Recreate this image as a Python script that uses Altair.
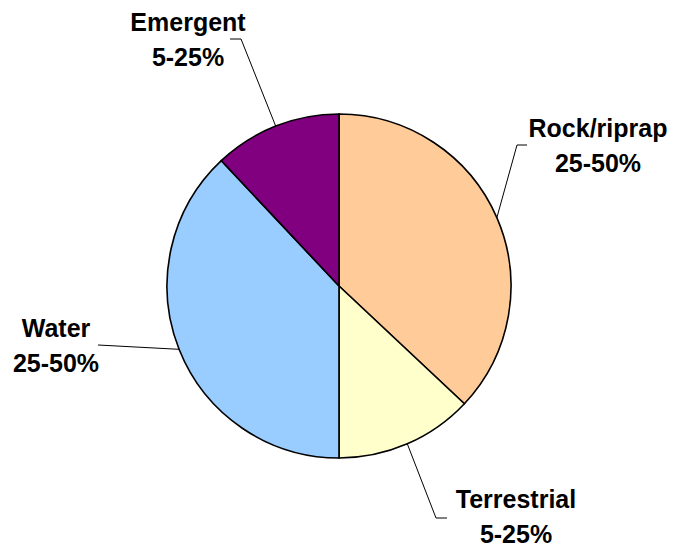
import math
import altair as alt
import pandas as pd

# ---- data ----
categories = ["Rock/riprap", "Terrestrial", "Water", "Emergent"]
shares = [37.0, 13.0, 38.0, 12.0]
ranges = ["25-50%", "5-25%", "25-50%", "5-25%"]
colors = ["#FFCC99", "#FFFFCC", "#99CCFF", "#800080"]

# ---- layout (pixels inside the chart) ----
W, H = 664, 539
CX, CY, R = 331, 278, 172
FONT = "Liberation Sans, Arial, sans-serif"
FONT_SIZE = 25
LINE_GAP = 35
# label centre x, first-line baseline y
label_layout = {
    "Rock/riprap": (590, 129),
    "Terrestrial": (508, 500),
    "Water": (48, 329),
    "Emergent": (180, 23),
}
# leader bend point and end point
leader_layout = {
    "Rock/riprap": [(509, 137), (519, 137)],
    "Terrestrial": [(428, 510), (439, 510)],
    "Water": [(90, 337)],
    "Emergent": [(233, 31), (222, 31)],
}

pie_df = pd.DataFrame({
    "category": categories,
    "share": shares,
    "idx": list(range(len(categories))),
})

# leader lines start at the middle angle of each slice on the rim
total = sum(shares)
rows = []
cum = 0.0
for cat, s in zip(categories, shares):
    mid = (cum + s / 2) / total * 2 * math.pi
    cum += s
    pts = [(CX + R * math.sin(mid), CY - R * math.cos(mid))] + leader_layout[cat]
    for k, (px, py) in enumerate(pts):
        rows.append({"category": cat, "k": k, "px": px, "py": py})
leader_df = pd.DataFrame(rows)

text_rows = []
for cat, rg in zip(categories, ranges):
    lx, ly = label_layout[cat]
    text_rows.append({"txt": cat, "px": lx, "py": ly})
    text_rows.append({"txt": rg, "px": lx, "py": ly + LINE_GAP})
text_df = pd.DataFrame(text_rows)

pie = alt.Chart(pie_df).mark_arc(
    outerRadius=R, stroke="black", strokeWidth=1.6
).encode(
    theta=alt.Theta("share:Q", stack=True),
    order=alt.Order("idx:Q"),
    color=alt.Color("category:N", scale=alt.Scale(domain=categories, range=colors), legend=None),
    x=alt.value(CX),
    y=alt.value(CY),
)

leaders = alt.Chart(leader_df).mark_line(color="black", strokeWidth=1).encode(
    x=alt.X("px:Q", scale=None, axis=None),
    y=alt.Y("py:Q", scale=None, axis=None),
    detail="category:N",
    order="k:Q",
)

labels = alt.Chart(text_df).mark_text(
    font=FONT, fontSize=FONT_SIZE, fontWeight="bold", color="black",
    align="center", baseline="alphabetic",
).encode(
    x=alt.X("px:Q", scale=None, axis=None),
    y=alt.Y("py:Q", scale=None, axis=None),
    text="txt:N",
)

chart = alt.layer(leaders, pie, labels).properties(
    width=W, height=H, padding=0, autosize=alt.AutoSizeParams(type="none"),
    background="white",
).configure_view(stroke=None)

chart.save("out.html", embed_options={"renderer": "svg", "actions": False})
